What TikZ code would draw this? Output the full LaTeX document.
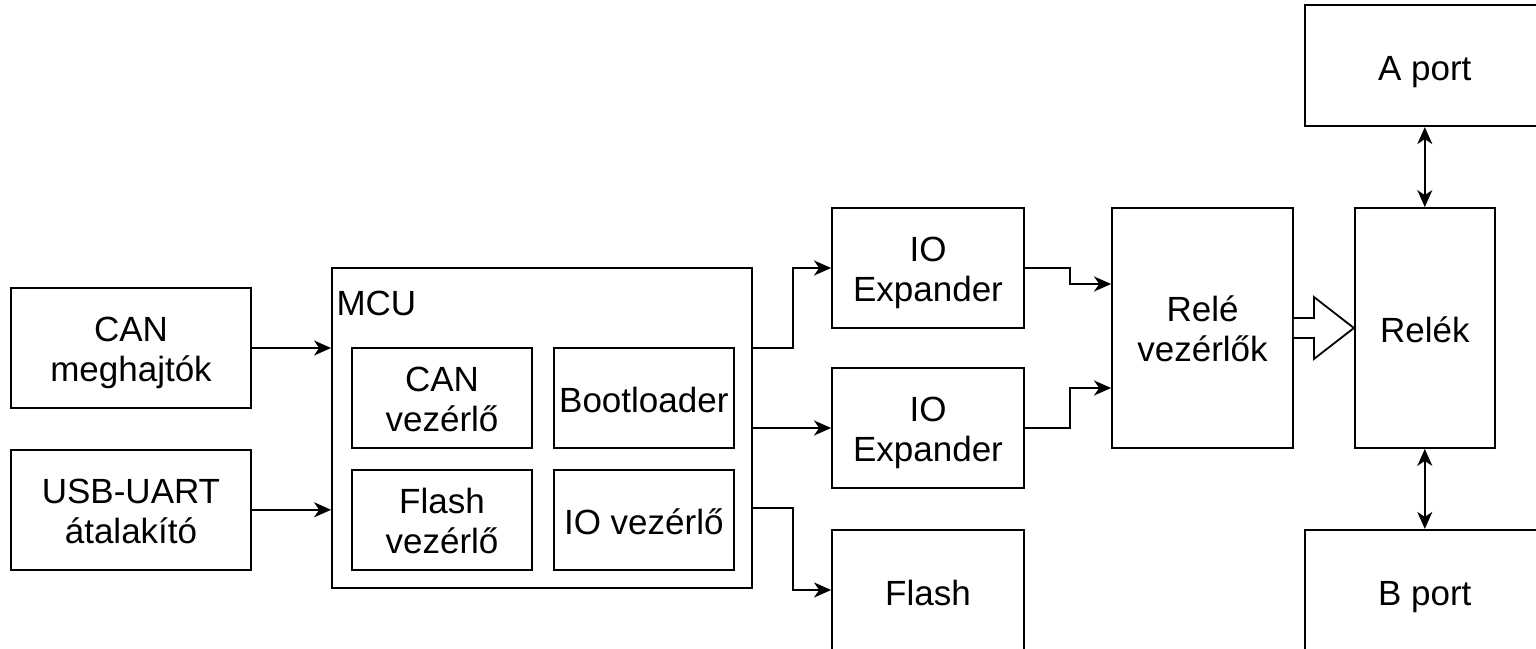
\documentclass[tikz,border=0pt]{standalone}
\usepackage{fontspec}
\setmainfont{Liberation Sans}
\usetikzlibrary{positioning, arrows.meta, calc}

\begin{document}
\begin{tikzpicture}[
x=0.5pt, y=0.5pt,
font=\fontsize{17.5}{20}\selectfont,
box/.style={rectangle, draw, line width=0.9pt, align=center, inner sep=0pt},
onel/.style={text height=15pt, text depth=0pt},
twol/.style={text height=34pt, text depth=0pt},
arrow/.style={-{Stealth[length=8.5pt, width=7.5pt, inset=2.5pt]}, line width=0.9pt},
dblarrow/.style={{Stealth[length=8.5pt, width=7.5pt, inset=2.5pt]}-{Stealth[length=8.5pt, width=7.5pt, inset=2.5pt]}, line width=0.9pt},
hollow/.style={draw, line width=0.9pt, fill=white, line join=miter}
]
\useasboundingbox (0,0) rectangle (1536,648);
\clip (0,0) rectangle (1536,648);

% Bemenetek
\node[box, twol, minimum width=120pt, minimum height=60pt] (canmh) at (131,300) {CAN\\meghajtók};
\node[box, twol, minimum width=120pt, minimum height=60pt, below=20pt of canmh] (usb) {USB-UART\\átalakító};

% MCU és belső blokkok
\node[box, minimum width=210pt, minimum height=160pt] (mcu) at (542,220) {};
\node[anchor=west, inner sep=0pt] (mculbl) at ($(mcu.north west)+(2.5pt,-18.25pt)$) {MCU};

\node[box, twol, minimum width=90pt, minimum height=50pt] (canv) at (442,250) {CAN\\vezérlő};
\node[box, onel, minimum width=90pt, minimum height=50pt, right=10pt of canv] (boot) {Bootloader};
\node[box, twol, minimum width=90pt, minimum height=50pt, below=10pt of canv] (flashv) {Flash\\vezérlő};
\node[box, onel, minimum width=90pt, minimum height=50pt, right=10pt of flashv] (iov) {IO vezérlő};

% Kimenetek
\node[box, twol, minimum width=96pt, minimum height=60pt] (exp1) at (928,380) {IO\\Expander};
\node[box, twol, minimum width=96pt, minimum height=60pt] (exp2) at (928,220) {IO\\Expander};
\node[box, onel, minimum width=96pt, minimum height=60pt] (flash) at (928,58) {Flash};

% Relék és portok
\node[box, twol, minimum width=90.5pt, minimum height=120pt] (rele) at (1202.5,320) {Relé\\vezérlők};
\node[box, onel, minimum width=70pt, minimum height=120pt, right=30pt of rele] (relek) {Relék};
\node[box, onel, minimum width=120pt, minimum height=60.5pt, above=40pt of relek] (aport) {A port};
\node[box, onel, minimum width=120pt, minimum height=61pt, below=40pt of relek] (bport) {B port};

% Nyilak
\draw[arrow] (canmh.east) -- (canmh.east -| mcu.west);
\draw[arrow] (usb.east) -- (usb.east -| mcu.west);

\draw[arrow] ($(mcu.east)+(0,80)$) -- ++(40,0) |- (exp1.west);
\draw[arrow] (mcu.east) -- (mcu.east -| exp2.west);
\draw[arrow] ($(mcu.east)+(0,-80)$) -- ++(40,0) |- (flash.west);

\draw[arrow] (exp1.east) -- ++(45,0) |- ($(rele.west)+(0,44)$);
\draw[arrow] (exp2.east) -- ++(45,0) |- ($(rele.west)+(0,-60)$);

\draw[hollow] ($(rele.east)+(0,10)$) -- ++(20,0) -- ++(0,21) -- (relek.west)
  -- ++(-40,-31) -- ++(0,21) -- ($(rele.east)+(0,-10)$);

\draw[dblarrow] (aport) -- (relek);
\draw[dblarrow] (relek) -- (bport);

\end{tikzpicture}
\end{document}
